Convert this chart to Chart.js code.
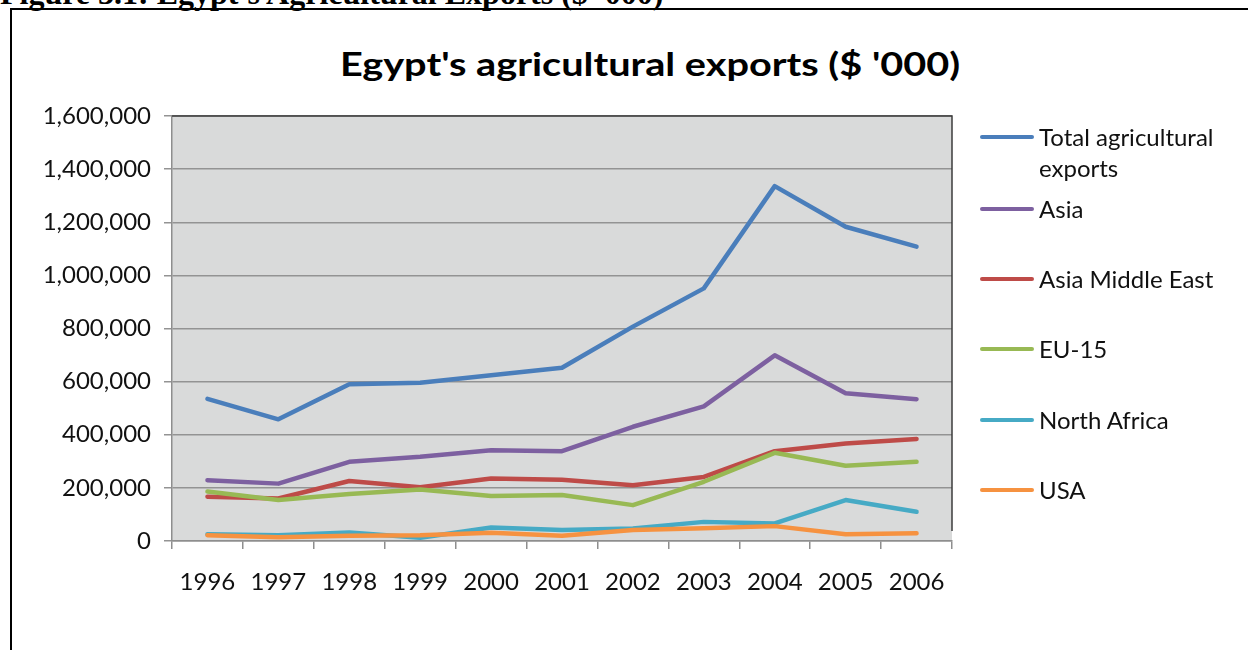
<!DOCTYPE html>
<html>
<head>
<meta charset="utf-8">
<script src="https://cdn.jsdelivr.net/npm/chart.js@4"></script>
<style>
  html, body { margin: 0; padding: 0; background: #fff; width: 1248px; height: 650px; overflow: hidden; }
  #caption { position: absolute; left: 0; top: -23px; font: bold 32px "Liberation Serif", serif; line-height: 1; color: #000; white-space: nowrap; }
  #frame { position: absolute; left: 10px; top: 8px; width: 1400px; height: 800px; border: 2px solid #000; }
  #title { position: absolute; left: 0; width: 1300px; top: 48px; text-align: center; }
  #title span { display: inline-block; font: bold 32px Lato, sans-serif; line-height: 1; color: #000; white-space: nowrap; transform-origin: 50% 50%; }
  #wrap { position: absolute; left: 10px; top: 10px; width: 1238px; height: 640px; }
  #legend { position: absolute; left: 980px; top: 0; font: 24px Lato, sans-serif; color: #111; }
  .lg { position: absolute; left: 0; white-space: nowrap; }
  .lg .sw { position: absolute; left: 0; width: 54px; height: 4px; border-radius: 2px; }
  .lg .tx { position: absolute; left: 59px; line-height: 31px; }
</style>
</head>
<body>
<div id="caption">Figure 3.1: Egypt's Agricultural Exports ($ '000)</div>
<div id="frame"></div>
<div id="title"><span id="titleText">Egypt's agricultural exports ($ '000)</span></div>
<div id="wrap"><canvas id="c" width="1238" height="640"></canvas></div>
<div id="legend"></div>
<script>
// years on the x axis
const years = ['1996','1997','1998','1999','2000','2001','2002','2003','2004','2005','2006'];

// values in $ '000
const total      = [535000, 458000, 590000, 596000, 624000, 652000, 807000, 951000, 1336000, 1183000, 1108000];
const asia       = [229000, 216000, 298000, 317000, 342000, 338000, 430000, 507000, 699000, 556000, 534000];
const asiaME     = [167000, 160000, 226000, 202000, 235000, 231000, 210000, 241000, 338000, 367000, 384000];
const eu15       = [186000, 154000, 177000, 194000, 169000, 173000, 135000, 223000, 332000, 283000, 298000];
const northAfr   = [25000, 22000, 32000, 12000, 51000, 41000, 47000, 72000, 66000, 154000, 110000];
const usa        = [22000, 14000, 20000, 22000, 31000, 20000, 41000, 48000, 56000, 25000, 29000];

const seriesNames  = ['Total agricultural\nexports', 'Asia', 'Asia Middle East', 'EU-15', 'North Africa', 'USA'];
const seriesData   = [total, asia, asiaME, eu15, northAfr, usa];
const seriesColors = ['#4a7ebb', '#7d60a0', '#be4b48', '#98b954', '#46aac5', '#f69240'];
const legendY      = [137, 209, 279, 349, 420, 490];

// stretch the title to the width it has in the original
const tt = document.getElementById('titleText');
tt.style.transform = 'scaleX(' + (620 / tt.offsetWidth).toFixed(3) + ')';

const plotBg = {
  id: 'plotBg',
  beforeDraw(chart) {
    const { ctx, chartArea: a } = chart;
    ctx.save();
    ctx.fillStyle = '#d9dada';
    ctx.fillRect(a.left, a.top, a.right - a.left, a.bottom - a.top);
    ctx.restore();
  },
  afterDraw(chart) {
    const { ctx, chartArea: a } = chart;
    ctx.save();
    ctx.strokeStyle = '#3c3c3c';
    ctx.lineWidth = 1.5;
    ctx.beginPath();
    ctx.moveTo(a.left, a.top);
    ctx.lineTo(a.right, a.top);
    ctx.lineTo(a.right, a.bottom - 10);
    ctx.stroke();
    ctx.restore();
  }
};

const datasets = seriesData.map((d, i) => ({
  label: seriesNames[i],
  data: d,
  borderColor: seriesColors[i],
  backgroundColor: seriesColors[i],
  borderWidth: 4.5,
  pointRadius: 0,
  tension: 0,
  borderCapStyle: 'round',
  borderJoinStyle: 'round',
  order: seriesData.length - i
}));

new Chart(document.getElementById('c'), {
  type: 'line',
  data: { labels: years, datasets },
  plugins: [plotBg],
  options: {
    responsive: false,
    animation: false,
    layout: { padding: { left: 0, top: 106, right: 296, bottom: 0 } },
    plugins: { legend: { display: false }, title: { display: false }, tooltip: { enabled: false } },
    scales: {
      x: {
        offset: true,
        grid: { offset: true, drawOnChartArea: false, drawTicks: true, tickLength: 8, color: '#8e8e8e', lineWidth: 1.5 },
        border: { color: '#8e8e8e', width: 1.5 },
        ticks: { color: '#111', font: { family: 'Lato', size: 24 }, padding: 19, maxRotation: 0, autoSkip: false },
        afterFit(s) { s.height = 109; }
      },
      y: {
        min: 0, max: 1600000,
        grid: { color: '#939393', lineWidth: 1.5, tickLength: 8 },
        border: { color: '#8e8e8e', width: 1.5 },
        ticks: {
          stepSize: 200000, color: '#111', padding: 13,
          font: { family: 'Lato', size: 24 },
          callback: v => v.toLocaleString('en-US')
        },
        afterFit(s) { s.width = 162; }
      }
    }
  }
});

// legend built from the series arrays
const lg = document.getElementById('legend');
seriesNames.forEach((name, i) => {
  const item = document.createElement('div');
  item.className = 'lg';
  item.style.top = legendY[i] + 'px';
  const sw = document.createElement('div');
  sw.className = 'sw';
  sw.style.background = seriesColors[i];
  sw.style.top = '-2px';
  const tx = document.createElement('div');
  tx.className = 'tx';
  tx.style.top = '-16px';
  tx.innerHTML = name.split('\n').join('<br>');
  item.appendChild(sw);
  item.appendChild(tx);
  lg.appendChild(item);
});
</script>
</body>
</html>
